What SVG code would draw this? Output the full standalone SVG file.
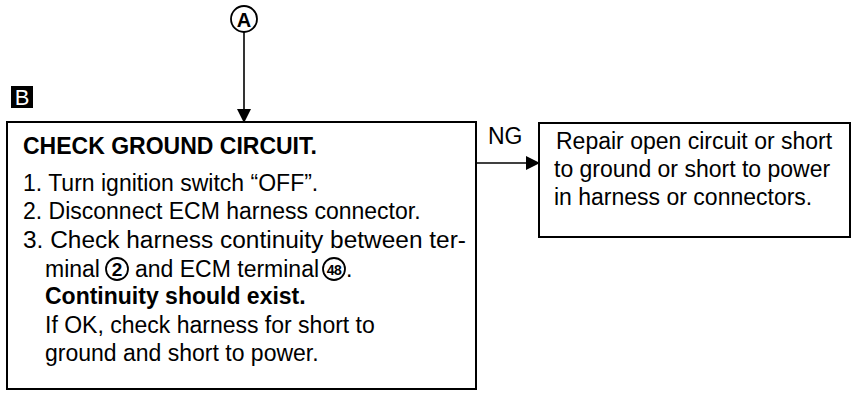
<svg xmlns="http://www.w3.org/2000/svg" width="858" height="393" viewBox="0 0 858 393">
<defs>
<style>
.t{font-family:"Liberation Sans",Arial,sans-serif;font-size:23px;fill:#000}
.b{font-weight:bold}
.box{fill:#fff;stroke:#000;stroke-width:2}
.ln{stroke:#000;stroke-width:1.6;fill:none}
.c{fill:#fff;stroke:#000;stroke-width:1.8}
.ct{font-family:"Liberation Sans",Arial,sans-serif;font-weight:bold;fill:#000;text-anchor:middle}
</style>
<marker id="ah" markerWidth="14" markerHeight="14" refX="13" refY="7" orient="auto" markerUnits="userSpaceOnUse">
<path d="M0,0 L14,7 L0,14 Z" fill="#000"/>
</marker>
</defs>
<rect width="858" height="393" fill="#fff"/>
<g id="nodeA">
<circle class="c" cx="244" cy="19" r="13"/>
<text class="ct" x="244" y="26.5" font-size="20">A</text>
</g>
<g id="labelB">
<rect x="11" y="86" width="22" height="22" fill="#000"/>
<text x="22" y="105" font-family="'Liberation Sans',Arial,sans-serif" font-size="22" fill="#fff" text-anchor="middle">B</text>
</g>
<g id="connectors">
<line class="ln" x1="244" y1="32" x2="244" y2="122" marker-end="url(#ah)"/>
<line class="ln" x1="476" y1="163" x2="539" y2="163" marker-end="url(#ah)"/>
<text class="t" x="488" y="144" font-size="21">NG</text>
</g>
<g id="check">
<rect class="box" x="7" y="122" width="469" height="267"/>
<text class="t b" x="23" y="154">CHECK GROUND CIRCUIT.</text>
<text class="t" x="23" y="191">1. Turn ignition switch “OFF”.</text>
<text class="t" x="23" y="219">2. Disconnect ECM harness connector.</text>
<text class="t" x="23" y="248" textLength="443" lengthAdjust="spacingAndGlyphs">3. Check harness continuity between ter-</text>
<text class="t" x="45" y="277">minal</text>
<circle class="c" cx="117" cy="269" r="11"/>
<text class="ct" x="117" y="276" font-size="19">2</text>
<text class="t" x="135" y="277">and ECM terminal</text>
<circle class="c" cx="334" cy="269" r="11"/>
<text class="ct" x="334" y="274.5" font-size="14" letter-spacing="-0.5">48</text>
<text class="t" x="346" y="277">.</text>
<text class="t b" x="45" y="304">Continuity should exist.</text>
<text class="t" x="45" y="333">If OK, check harness for short to</text>
<text class="t" x="45" y="361">ground and short to power.</text>
</g>
<g id="repair">
<rect class="box" x="539" y="123" width="311" height="114"/>
<text class="t" x="556" y="149">Repair open circuit or short</text>
<text class="t" x="554" y="177">to ground or short to power</text>
<text class="t" x="554" y="205">in harness or connectors.</text>
</g>
</svg>
